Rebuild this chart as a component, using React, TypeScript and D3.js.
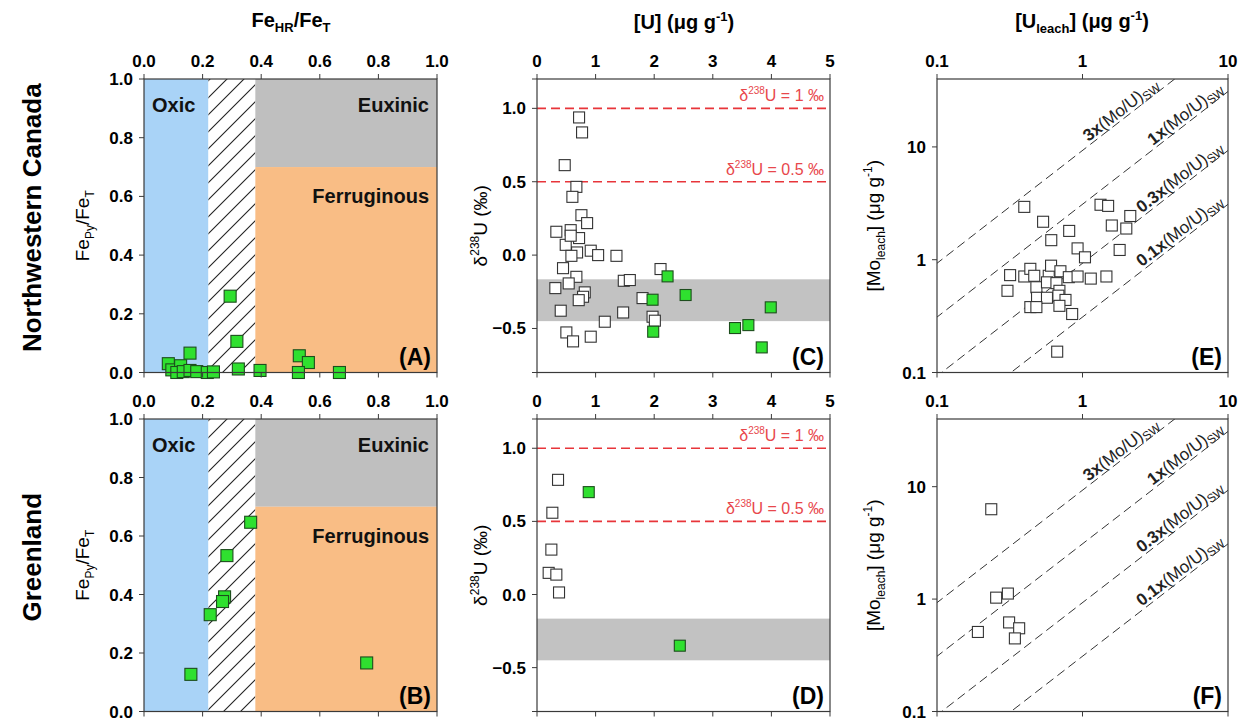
import React from 'react';
import * as d3 from 'd3';

// ---- Fe speciation (panels A, B) ----
const nwcFeHR = [0.294, 0.317, 0.157, 0.083, 0.095, 0.125, 0.112, 0.134, 0.157, 0.18, 0.216, 0.237, 0.322, 0.396, 0.53, 0.561, 0.527, 0.667];
const nwcFePy = [0.26, 0.106, 0.066, 0.03, 0.009, 0.023, 0.0, 0.003, 0.007, 0.003, 0.0, 0.002, 0.012, 0.007, 0.057, 0.034, 0.0, 0.0];
const grlFeHR = [0.364, 0.283, 0.275, 0.268, 0.226, 0.16, 0.76];
const grlFePy = [0.647, 0.533, 0.392, 0.376, 0.331, 0.127, 0.166];

// redox thresholds
const oxicMax = 0.22;
const anoxicMin = 0.38;
const euxinicMin = 0.7;

// ---- [U] vs d238U (panels C, D) ----
const nwcUOpen = [0.718, 0.769, 0.473, 0.672, 0.604, 0.758, 0.855, 0.33, 0.575, 0.718, 0.49, 0.575, 0.684, 0.587, 0.917, 1.043, 1.356, 2.108, 0.444, 0.672, 0.541, 0.313, 1.481, 1.584, 0.815, 0.786, 0.712, 1.801, 0.405, 1.47, 1.157, 1.972, 2.011, 0.501, 0.615, 0.917];
const nwcDUOpen = [0.938, 0.836, 0.613, 0.465, 0.397, 0.272, 0.218, 0.159, 0.17, 0.116, 0.07, 0.132, 0.018, -0.005, 0.03, 0.0, -0.005, -0.095, -0.089, -0.148, -0.193, -0.225, -0.175, -0.17, -0.254, -0.284, -0.307, -0.293, -0.379, -0.391, -0.454, -0.42, -0.447, -0.527, -0.588, -0.556];
const nwcUGreen = [2.228, 2.536, 1.972, 1.983, 3.989, 3.379, 3.607, 3.835];
const nwcDUGreen = [-0.145, -0.272, -0.304, -0.522, -0.356, -0.497, -0.477, -0.629];
const grlUOpen = [0.359, 0.262, 0.245, 0.199, 0.33, 0.376];
const grlDUOpen = [0.784, 0.559, 0.307, 0.148, 0.136, 0.014];
const grlUGreen = [0.883, 2.437];
const grlDUGreen = [0.7, -0.35];

const refLines = [1, 0.5];
const refLabels = ['1', '0.5'];
const seawaterBand = [-0.45, -0.165];

// ---- leachate Mo vs U (panels E, F) ----
const nwcUleach = [0.398, 0.536, 0.81, 0.61, 0.925, 1.04, 1.33, 1.5, 2.13, 1.59, 2.0, 1.8, 0.318, 0.398, 0.438, 0.466, 0.586, 0.608, 0.705, 0.805, 0.925, 1.14, 1.46, 0.305, 0.482, 0.57, 0.662, 0.694, 0.487, 0.57, 0.683, 0.764, 0.438, 0.482, 0.694, 0.849, 0.67];
const nwcMoleach = [2.94, 2.17, 1.8, 1.49, 1.26, 1.05, 3.07, 3.0, 2.44, 2.01, 1.89, 1.22, 0.73, 0.71, 0.83, 0.72, 0.72, 0.885, 0.79, 0.7, 0.71, 0.68, 0.71, 0.53, 0.57, 0.63, 0.62, 0.53, 0.46, 0.46, 0.48, 0.44, 0.38, 0.38, 0.39, 0.33, 0.153];
const grlUleach = [0.236, 0.255, 0.307, 0.191, 0.313, 0.367, 0.343];
const grlMoleach = [6.3, 1.03, 1.12, 0.51, 0.62, 0.55, 0.447];

const moUSeawater = 3.1;
const swMultipliers = [3, 1, 0.3, 0.1];
const swLabels = ['3x', '1x', '0.3x', '0.1x'];
const swLabelEnd = [3.5, 9.7, 9.7, 9.7];

const FONT = 'Liberation Sans, Arial, Helvetica, sans-serif';
const AX = '#3a3a3a';
const TICK = 5;
const GREEN = '#2fe02f';
const GREEN_EDGE = '#1d4d1d';

const colX = [[144, 437], [537, 830], [937, 1228]];
const rowY = [[79, 372.5], [419, 711.5]];

function Axes({ xs, ys, x0, x1, y0, y1, xTicks, yTicks, xFmt, yFmt }: any) {
  return (
    <g>
      <rect x={x0} y={y0} width={x1 - x0} height={y1 - y0} fill="none" stroke={AX} strokeWidth={1.2} />
      {xTicks.map((t: number) => (
        <g key={'x' + t}>
          <line x1={xs(t)} x2={xs(t)} y1={y0} y2={y0 - TICK} stroke={AX} />
          <line x1={xs(t)} x2={xs(t)} y1={y1} y2={y1 + TICK} stroke={AX} />
          <text x={xs(t)} y={y0 - 12} textAnchor="middle" fontWeight="bold" fontSize={17}>{xFmt(t)}</text>
        </g>
      ))}
      {yTicks.map((t: any) => (
        <g key={'y' + t.v}>
          <line x1={x0 - TICK} x2={x0} y1={ys(t.v)} y2={ys(t.v)} stroke={AX} />
          {t.label && (
            <text x={x0 - 11} y={ys(t.v) + 6} textAnchor="end" fontWeight="bold" fontSize={17}>{yFmt(t.v)}</text>
          )}
        </g>
      ))}
    </g>
  );
}

function Squares({ xs, ys, xv, yv, size, fill, stroke }: any) {
  return (
    <g>
      {xv.map((v: number, i: number) => (
        <rect key={i} x={xs(v) - size / 2} y={ys(yv[i]) - size / 2} width={size} height={size}
          fill={fill} stroke={stroke} strokeWidth={1.1} />
      ))}
    </g>
  );
}

function FePanel({ row, fhr, fpy, letter }: any) {
  const [x0, x1] = colX[0];
  const [y0, y1] = rowY[row];
  const xs = d3.scaleLinear().domain([0, 1]).range([x0, x1]);
  const ys = d3.scaleLinear().domain([0, 1]).range([y1, y0]);
  return (
    <g>
      <rect x={xs(0)} y={y0} width={xs(oxicMax) - xs(0)} height={y1 - y0} fill="#a9d3f7" />
      <rect x={xs(oxicMax)} y={y0} width={xs(anoxicMin) - xs(oxicMax)} height={y1 - y0} fill="url(#hatch)" />
      <rect x={xs(anoxicMin)} y={y0} width={x1 - xs(anoxicMin)} height={ys(euxinicMin) - y0} fill="#bfbfbf" />
      <rect x={xs(anoxicMin)} y={ys(euxinicMin)} width={x1 - xs(anoxicMin)} height={y1 - ys(euxinicMin)} fill="#f9bd85" />
      <text x={x0 + 8} y={y0 + 33} fontWeight="bold" fontSize={20} fill="#111">Oxic</text>
      <text x={x1 - 8} y={y0 + 33} fontWeight="bold" fontSize={20} fill="#111" textAnchor="end">Euxinic</text>
      <text x={x1 - 8} y={ys(euxinicMin) + 36} fontWeight="bold" fontSize={20} fill="#111" textAnchor="end">Ferruginous</text>
      <Squares xs={xs} ys={ys} xv={fhr} yv={fpy} size={12} fill={GREEN} stroke={GREEN_EDGE} />
      <Axes xs={xs} ys={ys} x0={x0} x1={x1} y0={y0} y1={y1}
        xTicks={[0, 0.2, 0.4, 0.6, 0.8, 1.0]}
        yTicks={[0, 0.2, 0.4, 0.6, 0.8, 1.0].map(v => ({ v, label: true }))}
        xFmt={d3.format('.1f')} yFmt={d3.format('.1f')} />
      <text x={x1 - 6} y={y1 - 8} textAnchor="end" fontWeight="bold" fontSize={23}>{letter}</text>
    </g>
  );
}

function UPanel({ row, uo, duo, ug, dug, letter }: any) {
  const [x0, x1] = colX[1];
  const [y0, y1] = rowY[row];
  const xs = d3.scaleLinear().domain([0, 5]).range([x0, x1]);
  const ys = d3.scaleLinear().domain([-0.8, 1.2]).range([y1, y0]);
  return (
    <g>
      <rect x={x0} y={ys(seawaterBand[1])} width={x1 - x0} height={ys(seawaterBand[0]) - ys(seawaterBand[1])} fill="#c2c2c2" />
      {refLines.map((r, i) => (
        <g key={r}>
          <line x1={x0} x2={x1} y1={ys(r)} y2={ys(r)} stroke="#e8353a" strokeWidth={1.6} strokeDasharray="9,5" />
          <text x={x1 - 6} y={ys(r) - 7} textAnchor="end" fontSize={16} fill="#e8474c">
            <tspan>δ</tspan><tspan fontSize={10} dy={-7}>238</tspan><tspan dy={7}>{`U = ${refLabels[i]} ‰`}</tspan>
          </text>
        </g>
      ))}
      <Squares xs={xs} ys={ys} xv={uo} yv={duo} size={11} fill="white" stroke="#333" />
      <Squares xs={xs} ys={ys} xv={ug} yv={dug} size={11} fill={GREEN} stroke={GREEN_EDGE} />
      <Axes xs={xs} ys={ys} x0={x0} x1={x1} y0={y0} y1={y1}
        xTicks={[0, 1, 2, 3, 4, 5]}
        yTicks={[-0.8, -0.5, 0, 0.5, 1.0, 1.2].map(v => ({ v, label: Math.abs(v) !== 0.8 && v !== 1.2 }))}
        xFmt={d3.format('d')} yFmt={d3.format('.1f')} />
      <text x={x1 - 6} y={y1 - 8} textAnchor="end" fontWeight="bold" fontSize={23}>{letter}</text>
    </g>
  );
}

function MoPanel({ row, ul, ml, letter }: any) {
  const [x0, x1] = colX[2];
  const [y0, y1] = rowY[row];
  const xs = d3.scaleLog().domain([0.1, 10]).range([x0, x1]);
  const ys = d3.scaleLog().domain([0.1, 40]).range([y1, y0]);
  const ang = Math.atan2(ys(10) - ys(1), xs(10) - xs(1)) * 180 / Math.PI;
  const clipId = 'clip' + row;
  return (
    <g>
      <clipPath id={clipId}><rect x={x0} y={y0} width={x1 - x0} height={y1 - y0} /></clipPath>
      <g clipPath={`url(#${clipId})`}>
        {swMultipliers.map(m => {
          const r = m * moUSeawater;
          const ends = [0.01, 100];
          return (
            <line key={m} x1={xs(ends[0])} y1={ys(ends[0] * r)} x2={xs(ends[1])} y2={ys(ends[1] * r)}
              stroke="#333" strokeWidth={1} strokeDasharray="9,5" />
          );
        })}
      </g>
      {swMultipliers.map((m, i) => {
        const u = swLabelEnd[i];
        const px = xs(u);
        const py = ys(u * m * moUSeawater);
        return (
          <text key={m} transform={`translate(${px},${py}) rotate(${ang})`} y={-3} textAnchor="end" fontSize={17} fill="#222">
            <tspan fontWeight="bold">{swLabels[i]}</tspan><tspan>(Mo/U)</tspan><tspan fontSize={12} dy={3}>SW</tspan>
          </text>
        );
      })}
      <Squares xs={xs} ys={ys} xv={ul} yv={ml} size={11} fill="white" stroke="#333" />
      <Axes xs={xs} ys={ys} x0={x0} x1={x1} y0={y0} y1={y1}
        xTicks={[0.1, 1, 10]}
        yTicks={[0.1, 1, 10].map(v => ({ v, label: true }))}
        xFmt={(v: number) => String(v)} yFmt={(v: number) => String(v)} />
      <text x={x1 - 6} y={y1 - 8} textAnchor="end" fontWeight="bold" fontSize={23}>{letter}</text>
    </g>
  );
}

export default function App() {
  const midTop = (rowY[0][0] + rowY[0][1]) / 2;
  const midBot = (rowY[1][0] + rowY[1][1]) / 2;
  return (
    <svg width={1247} height={723} style={{ position: 'absolute', left: 0, top: 0, background: 'white' }}
      fontFamily={FONT}>
      <defs>
        <pattern id="hatch" patternUnits="userSpaceOnUse" width={17} height={17}>
          <rect width={17} height={17} fill="white" />
          <path d="M0,17 L17,0 M-4,4 L4,-4 M13,21 L21,13" stroke="#222" strokeWidth={1.1} />
        </pattern>
      </defs>

      {/* column titles */}
      <text x={291} y={27} textAnchor="middle" fontWeight="bold" fontSize={20}>
        <tspan>Fe</tspan><tspan fontSize={13} dy={5}>HR</tspan><tspan dy={-5}>/Fe</tspan><tspan fontSize={13} dy={5}>T</tspan>
      </text>
      <text x={684} y={29} textAnchor="middle" fontWeight="bold" fontSize={20}>
        <tspan>[U] (μg g</tspan><tspan fontSize={13} dy={-8}>-1</tspan><tspan dy={8}>)</tspan>
      </text>
      <text x={1082} y={28} textAnchor="middle" fontWeight="bold" fontSize={20}>
        <tspan>[U</tspan><tspan fontSize={13} dy={5}>leach</tspan><tspan dy={-5}>] (μg g</tspan><tspan fontSize={13} dy={-8}>-1</tspan><tspan dy={8}>)</tspan>
      </text>

      {/* row labels */}
      <text transform={`translate(41,${midTop - 8}) rotate(-90)`} textAnchor="middle" fontWeight="bold" fontSize={26}>Northwestern Canada</text>
      <text transform={`translate(41,${midBot - 8}) rotate(-90)`} textAnchor="middle" fontWeight="bold" fontSize={26}>Greenland</text>

      {/* y axis titles */}
      {[midTop, midBot].map((m, i) => (
        <g key={i}>
          <text transform={`translate(89,${m}) rotate(-90)`} textAnchor="middle" fontSize={19}>
            <tspan>Fe</tspan><tspan fontSize={12} dy={5}>Py</tspan><tspan dy={-5}>/Fe</tspan><tspan fontSize={12} dy={5}>T</tspan>
          </text>
          <text transform={`translate(487,${m}) rotate(-90)`} textAnchor="middle" fontSize={19}>
            <tspan>δ</tspan><tspan fontSize={12} dy={-8}>238</tspan><tspan dy={8}>U (‰)</tspan>
          </text>
          <text transform={`translate(880,${m}) rotate(-90)`} textAnchor="middle" fontSize={19}>
            <tspan>[Mo</tspan><tspan fontSize={12} dy={5}>leach</tspan><tspan dy={-5}>] (μg g</tspan><tspan fontSize={12} dy={-8}>-1</tspan><tspan dy={8}>)</tspan>
          </text>
        </g>
      ))}

      <FePanel row={0} fhr={nwcFeHR} fpy={nwcFePy} letter="(A)" />
      <FePanel row={1} fhr={grlFeHR} fpy={grlFePy} letter="(B)" />
      <UPanel row={0} uo={nwcUOpen} duo={nwcDUOpen} ug={nwcUGreen} dug={nwcDUGreen} letter="(C)" />
      <UPanel row={1} uo={grlUOpen} duo={grlDUOpen} ug={grlUGreen} dug={grlDUGreen} letter="(D)" />
      <MoPanel row={0} ul={nwcUleach} ml={nwcMoleach} letter="(E)" />
      <MoPanel row={1} ul={grlUleach} ml={grlMoleach} letter="(F)" />
    </svg>
  );
}
